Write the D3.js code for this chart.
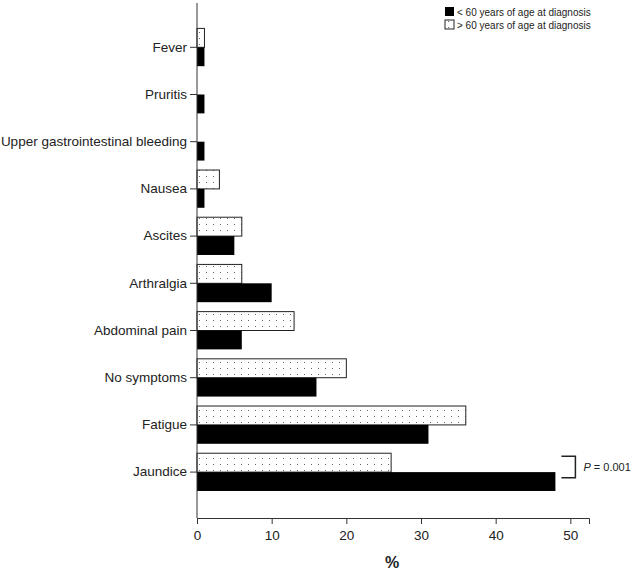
<!DOCTYPE html>
<html>
<head>
<meta charset="utf-8">
<script src="https://cdn.jsdelivr.net/npm/d3@7"></script>
<style>
  body { margin: 0; background: #fff; }
  text { font-family: "Liberation Sans", Arial, sans-serif; }
</style>
</head>
<body>
<svg width="634" height="573"></svg>
<script>
// symptoms at presentation, % of patients
let categories = ["Fever", "Pruritis", "Upper gastrointestinal bleeding", "Nausea", "Ascites",
                  "Arthralgia", "Abdominal pain", "No symptoms", "Fatigue", "Jaundice"];
let under60 = [1, 1, 1, 1, 5, 10, 6, 16, 31, 48];   // < 60 years
let over60  = [1, 0, 0, 3, 6, 6, 13, 20, 36, 26];    // > 60 years
let xTicks = [0, 10, 20, 30, 40, 50];
let groups = ["over60", "under60"];
let legendLabels = ["< 60 years of age at diagnosis", "> 60 years of age at diagnosis"];

let svg = d3.select("svg");
let left = 197, right = 589, axisY = 518, axisTop = 3;

let xScale = d3.scaleLinear().domain([0, 52.5]).range([left, right]);
let yScale = d3.scaleBand().domain(categories).range([23.7, 495.7])
    .paddingInner(0.2).paddingOuter(0.1);
let subScale = d3.scaleBand().domain(groups).range([0, yScale.bandwidth()]);

// dotted fill for the older group
let defs = svg.append("defs");
let pat = defs.append("pattern").attr("id", "dots")
    .attr("patternUnits", "userSpaceOnUse").attr("width", 7).attr("height", 6);
pat.append("rect").attr("width", 7).attr("height", 6).attr("fill", "#fff");
pat.append("rect").attr("x", 3).attr("y", 2).attr("width", 1).attr("height", 1).attr("fill", "#666");

let rows = categories.map((c, i) => ({cat: c, over60: over60[i], under60: under60[i]}));

let bars = [];
rows.forEach(r => groups.forEach(g => { if (r[g] > 0) bars.push({cat: r.cat, g: g, v: r[g]}); }));

svg.append("g").selectAll("rect")
    .data(bars)
    .enter()
    .append("rect")
    .attr("x", xScale(0))
    .attr("y", d => yScale(d.cat) + subScale(d.g))
    .attr("width", d => xScale(d.v) - xScale(0))
    .attr("height", subScale.bandwidth())
    .attr("fill", d => d.g == "under60" ? "#000" : "url(#dots)")
    .attr("stroke", d => d.g == "under60" ? "none" : "#222")
    .attr("stroke-width", 1);

// axes
let xAxis = d3.axisBottom(xScale).tickValues(xTicks).tickSizeOuter(0).tickSize(6).tickPadding(6);
let gx = svg.append("g").attr("transform", "translate(0," + axisY + ")").call(xAxis);
gx.selectAll("text").attr("font-size", 13.5).attr("fill", "#222").style("font-family", "Liberation Sans, Arial");
gx.selectAll("line,path").attr("stroke", "#333");

let yAxis = d3.axisLeft(yScale).tickSize(7).tickPadding(3);
let gy = svg.append("g").attr("transform", "translate(" + left + ",0)").call(yAxis);
gy.select(".domain").remove();
gy.selectAll("text").attr("font-size", 13.5).attr("fill", "#222").style("font-family", "Liberation Sans, Arial");
gy.selectAll("line").attr("stroke", "#333");
svg.append("line").attr("x1", left).attr("x2", left).attr("y1", axisTop).attr("y2", axisY)
    .attr("stroke", "#333");

svg.append("text").attr("x", 392).attr("y", 568).attr("text-anchor", "middle")
    .attr("font-size", 16).attr("font-weight", "bold").attr("fill", "#222").text("%");

// significance bracket on Jaundice
let jy = yScale("Jaundice");
let bx = xScale(48) + 6;
svg.append("path")
    .attr("d", "M" + bx + "," + (jy + 3) + "H" + (bx + 14) + "V" + (jy + 24.5) + "H" + bx)
    .attr("fill", "none").attr("stroke", "#222").attr("stroke-width", 1.5);
let pt = svg.append("text").attr("x", bx + 22).attr("y", jy + 18).attr("font-size", 11).attr("fill", "#222");
pt.append("tspan").attr("font-style", "italic").text("P");
pt.append("tspan").text(" = 0.001");

// legend
let leg = svg.append("g").attr("transform", "translate(445,7)");
legendLabels.forEach((l, i) => {
    leg.append("rect").attr("x", 0).attr("y", i * 13).attr("width", 9).attr("height", 9)
        .attr("fill", i == 0 ? "#000" : "url(#dots)")
        .attr("stroke", i == 0 ? "none" : "#222");
    leg.append("text").attr("x", 12).attr("y", i * 13 + 8.5).attr("font-size", 10)
        .attr("fill", "#222").text(l);
});
</script>
</body>
</html>
